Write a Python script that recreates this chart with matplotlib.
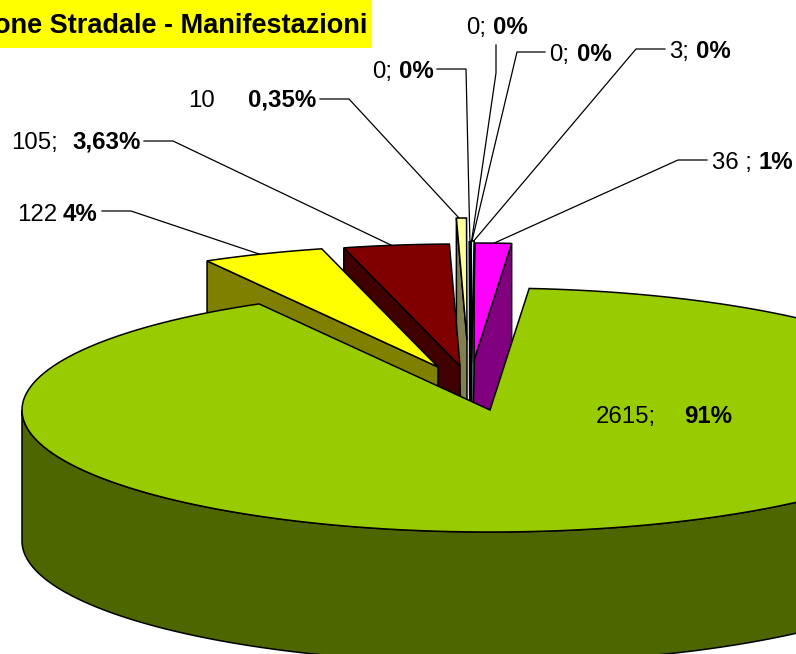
import numpy as np
import matplotlib
matplotlib.use('Agg')
import matplotlib.pyplot as plt
from matplotlib.patches import Polygon, Rectangle

plt.rcParams['font.family'] = ['Liberation Sans', 'DejaVu Sans']

# dati
values = [2615, 122, 105, 10, 0, 0, 0, 3, 36]
value_labels = ['2615;', '122', '105;', '10', '0;', '0;', '0;', '3;', '36 ;']
percent_labels = ['91%', '4%', '3,63%', '0,35%', '0%', '0%', '0%', '0%', '1%']
title = 'one Stradale - Manifestazioni'

# stile delle fette
top_colors = ['#99CC00', '#FFFF00', '#800000', '#FFFF99', '#CCFFFF', '#CCFFFF', '#CCFFFF', '#CCFFFF', '#FF00FF']
wall_colors = ['#4D6600', '#808000', '#400000', '#808050', '#668080', '#668080', '#668080', '#668080', '#800080']
offsets = [(0, 0), (-52, -43), (-30, -44), (-23, -70), (-20, -47), (-19.5, -47), (-19, -47), (-18.5, -47), (-17.5, -45)]
draw_order = [8, 7, 6, 5, 4, 3, 2, 1, 0]

# geometria in pixel
cx, cy = 490, 410
rx, ry = 468, 122
depth = 131
start_deg = 4.8

# posizioni etichette: x valore, x percentuale, baseline
value_x = [596, 17, 11, 188, 372, 466, 549, 669, 712]
percent_x = [684, 63, 72, 248, 399, 493, 577, 696, 759]
baseline = [423, 221, 149, 107, 78, 34, 61, 58, 169]

# linee guida
leaders = [
    [(707, 160), (678, 160), (490, 245)],
    [(665, 49), (636, 49), (472, 243)],
    [(545, 52), (517, 52), (471, 245)],
    [(496, 45), (496, 73), (471, 245)],
    [(437, 69), (466, 69), (470, 245)],
    [(320, 99), (349, 99), (459, 218)],
    [(144, 141), (173, 141), (393, 246)],
    [(102, 211), (131, 211), (262, 255)],
]


def arc(t1, t2, ox, oy, n=200):
    t = np.radians(np.linspace(t1, t2, n))
    return np.column_stack((cx + ox + rx * np.sin(t), cy + oy - ry * np.cos(t)))


def draw_poly(ax, pts, color, z):
    ax.add_patch(Polygon(pts, closed=True, facecolor=color, edgecolor='black',
                         linewidth=1.1, joinstyle='miter', zorder=z))


fig = plt.figure(figsize=(7.96, 6.54), dpi=100)
ax = fig.add_axes([0, 0, 1, 1])
ax.set_xlim(0, 796)
ax.set_ylim(654, 0)
ax.axis('off')

# angoli delle fette, in senso orario dal verde
sweeps = np.array(values) / sum(values) * 360
t_start = start_deg + np.concatenate(([0], np.cumsum(sweeps)[:-1]))
t_end = t_start + sweeps

z = 2
for i in draw_order:
    ox, oy = offsets[i]
    a, b = t_start[i], t_end[i]
    apex = np.array([cx + ox, cy + oy])
    down = np.array([0, depth])
    top = arc(a, b, ox, oy)

    # pareti di taglio visibili
    if np.sin(np.radians(a)) < 0:
        draw_poly(ax, [apex, top[0], top[0] + down, apex + down], wall_colors[i], z)
    if np.sin(np.radians(b)) > 0:
        draw_poly(ax, [apex, top[-1], top[-1] + down, apex + down], wall_colors[i], z)

    # parete esterna, solo la parte davanti
    f1, f2 = max(a, 90), min(b, 270)
    if f2 > f1:
        front = arc(f1, f2, ox, oy)
        draw_poly(ax, np.vstack((front, (front + down)[::-1])), wall_colors[i], z)

    draw_poly(ax, np.vstack((apex, top)), top_colors[i], z + 0.5)
    z += 1

# titolo
ax.add_patch(Rectangle((-5, -5), 376, 53, facecolor='#FFFF00', edgecolor='none', zorder=20))
ax.text(367, 33, title, fontsize=19.5, fontweight='bold', ha='right', va='baseline', zorder=21)

for pts in leaders:
    xs, ys = zip(*pts)
    ax.plot(xs, ys, color='black', linewidth=0.9, zorder=1)

# etichette
for i in range(len(values)):
    ax.text(value_x[i], baseline[i], value_labels[i], fontsize=17.3, va='baseline', zorder=22)
    ax.text(percent_x[i], baseline[i], percent_labels[i], fontsize=17.3, fontweight='bold',
            va='baseline', zorder=22)

fig.savefig('out.png', dpi=100)
